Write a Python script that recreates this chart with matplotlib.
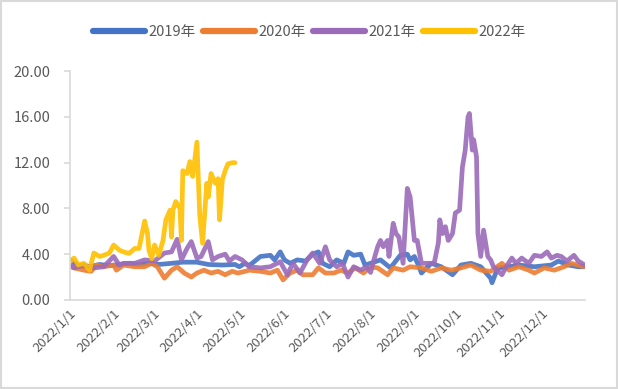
import matplotlib
matplotlib.use("Agg")
import matplotlib.pyplot as plt
import pandas as pd
from matplotlib.patches import Rectangle

plt.rcParams["font.family"] = ["Noto Sans CJK SC", "DejaVu Sans"]

# day offsets from 2022/1/1 and values
days_2019 = [0, 6, 14, 21, 28, 35, 42, 49, 56, 63, 72, 80, 90, 98, 108, 117, 120, 124,
             127, 135, 142, 145, 149, 152, 156, 161, 167, 172, 176, 179, 184, 189, 194,
             197, 201, 206, 209, 213, 220, 227, 234, 239, 241, 244, 247, 249, 256, 263,
             271, 277, 284, 291, 298, 299, 303, 311, 318, 329, 341, 346, 353, 360, 364]
vals_2019 = [3.5, 3.0, 2.9, 3.1, 3.0, 3.1, 3.2, 3.1, 3.2, 3.1, 3.2, 3.3, 3.3, 3.1, 3.05,
             3.1, 2.9, 3.2, 3.0, 3.8, 3.9, 3.5, 4.2, 3.5, 3.2, 3.5, 3.4, 4.0, 4.2, 3.2,
             2.9, 3.5, 3.2, 4.2, 3.9, 4.0, 3.05, 3.2, 3.5, 2.8, 3.9, 4.0, 3.5, 3.8, 3.0,
             2.35, 3.2, 2.9, 2.2, 3.05, 3.2, 2.9, 1.9, 1.5, 2.8, 2.9, 3.05, 2.9, 3.05,
             3.4, 3.05, 2.9, 2.9]

days_2020 = [0, 3, 10, 15, 19, 24, 31, 33, 38, 46, 53, 58, 62, 67, 72, 76, 81, 86, 90,
             95, 100, 105, 110, 115, 119, 124, 127, 135, 142, 147, 151, 156, 161, 165,
             172, 176, 181, 187, 192, 197, 202, 208, 213, 218, 225, 229, 236, 241, 249,
             256, 263, 270, 277, 284, 291, 298, 306, 311, 318, 325, 329, 336, 343, 350,
             355, 360, 364]
vals_2020 = [2.9, 2.8, 2.6, 2.5, 3.05, 2.9, 3.05, 2.6, 3.05, 2.9, 2.9, 3.2, 2.9, 1.9,
             2.6, 2.9, 2.35, 2.0, 2.35, 2.6, 2.35, 2.5, 2.2, 2.5, 2.35, 2.5, 2.6, 2.5,
             2.35, 2.6, 1.75, 2.35, 2.6, 2.2, 2.2, 2.8, 2.35, 2.35, 2.6, 2.35, 2.8, 2.35,
             2.9, 2.8, 2.2, 2.8, 2.6, 2.9, 2.8, 2.5, 2.8, 2.6, 2.8, 3.05, 2.6, 2.5, 3.2,
             2.6, 2.9, 2.6, 2.35, 2.8, 2.6, 2.9, 3.2, 3.05, 2.9]

days_2021 = [0, 3, 10, 17, 24, 31, 35, 38, 46, 53, 60, 67, 72, 76, 79, 83, 86, 90, 93,
             98, 101, 105, 110, 113, 117, 122, 127, 135, 142, 149, 154, 158, 163, 168,
             172, 177, 181, 184, 189, 193, 197, 201, 206, 210, 213, 216, 218, 220, 222,
             225, 226, 229, 231, 233, 236, 239, 241, 244, 246, 249, 254, 258, 261, 262,
             264, 266, 268, 271, 273, 276, 278, 280, 282, 283, 285, 286, 288, 289, 291,
             293, 296, 298, 300, 306, 309, 313, 316, 320, 325, 329, 334, 338, 341, 345,
             348, 352, 357, 360, 364]
vals_2021 = [3.34, 2.8, 3.05, 2.8, 2.9, 3.8, 3.05, 3.2, 3.2, 3.5, 3.4, 4.1, 4.2, 5.3,
             3.5, 4.5, 5.1, 3.66, 3.8, 5.1, 3.5, 3.8, 4.0, 3.4, 3.8, 3.5, 2.9, 2.8, 2.9,
             3.34, 2.2, 3.2, 2.35, 3.5, 4.1, 3.2, 4.65, 3.5, 2.9, 3.2, 2.0, 2.9, 2.6, 2.9,
             2.4, 3.8, 4.65, 5.2, 4.65, 5.2, 3.8, 6.7, 5.8, 5.5, 3.2, 9.75, 9.0, 5.2, 5.2,
             3.2, 3.2, 3.2, 5.0, 7.0, 5.8, 6.4, 5.2, 5.8, 7.6, 7.85, 11.6, 13.1, 16.0,
             16.3, 13.1, 14.0, 12.5, 5.8, 3.8, 6.1, 3.8, 3.5, 2.9, 2.2, 2.9, 3.66, 3.2,
             3.66, 3.2, 3.9, 3.8, 4.2, 3.66, 3.9, 3.8, 3.4, 3.9, 3.4, 3.1]

days_2022 = [0, 3, 6, 10, 14, 17, 21, 24, 28, 31, 35, 38, 42, 46, 49, 53, 55, 56, 58,
             60, 63, 66, 68, 71, 72, 73, 75, 78, 79, 80, 83, 85, 87, 90, 92, 94, 97, 98,
             100, 103, 105, 106, 108, 110, 112, 115, 117]
vals_2022 = [3.34, 3.66, 3.05, 3.2, 2.6, 4.1, 3.8, 3.9, 4.1, 4.8, 4.36, 4.2, 4.07, 4.5,
             4.5, 6.9, 5.8, 4.36, 3.6, 4.8, 3.9, 5.2, 7.0, 7.85, 5.5, 7.85, 8.6, 8.0, 5.2,
             11.3, 11.05, 12.1, 10.8, 13.8, 7.4, 4.95, 10.2, 9.0, 11.05, 10.2, 10.6, 7.0,
             10.5, 11.3, 11.9, 12.0, 12.0]

series = [
    ("2019年", days_2019, vals_2019, "#4472C4"),
    ("2020年", days_2020, vals_2020, "#ED7D31"),
    ("2021年", days_2021, vals_2021, "#9B6BBA"),
    ("2022年", days_2022, vals_2022, "#FFC000"),
]

y_ticks = [0, 4, 8, 12, 16, 20]
month_ticks = pd.date_range("2022-01-01", "2022-12-01", freq="MS")
base = pd.Timestamp("2022-01-01")

fig = plt.figure(figsize=(6.18, 3.89), dpi=100)
ax = fig.add_axes([0.113, 0.229, 0.834, 0.588])

for name, d, v, c in series:
    x = base + pd.to_timedelta(d, unit="D")
    ax.plot(x, v, color=c, lw=3.4, alpha=0.9, label=name,
            solid_joinstyle="round", solid_capstyle="round")

ax.set_xlim(base, pd.Timestamp("2023-01-01"))
ax.set_ylim(0, 20)
ax.set_yticks(y_ticks)
ax.set_yticklabels([f"{t:.2f}" for t in y_ticks])
ax.set_xticks(month_ticks)
ax.set_xticklabels([f"2022/{m.month}/1" for m in month_ticks],
                   rotation=45, ha="right", rotation_mode="anchor")

for s in ["top", "right"]:
    ax.spines[s].set_visible(False)
for s in ["left", "bottom"]:
    ax.spines[s].set_color("#D9D9D9")
    ax.spines[s].set_linewidth(1.2)
ax.tick_params(axis="y", colors="#D9D9D9", labelcolor="#595959", labelsize=10.5,
               length=4, width=1.2, pad=10)
ax.tick_params(axis="x", length=0, labelcolor="#595959", labelsize=9.5, pad=5)

leg = fig.legend(loc="upper center", bbox_to_anchor=(0.50, 0.97), ncol=4,
                 frameon=False, fontsize=10.5, handlelength=3.6, handletextpad=0.2,
                 columnspacing=0.5)
for line in leg.get_lines():
    line.set_linewidth(4.5)
    line.set_alpha(1)
    line.set_solid_capstyle("round")
for t in leg.get_texts():
    t.set_color("#595959")

fig.patches.append(Rectangle((0.002, 0.003), 0.996, 0.994, transform=fig.transFigure,
                             fill=False, edgecolor="#D9D9D9", lw=1.5))

fig.savefig("out.png", dpi=100)
